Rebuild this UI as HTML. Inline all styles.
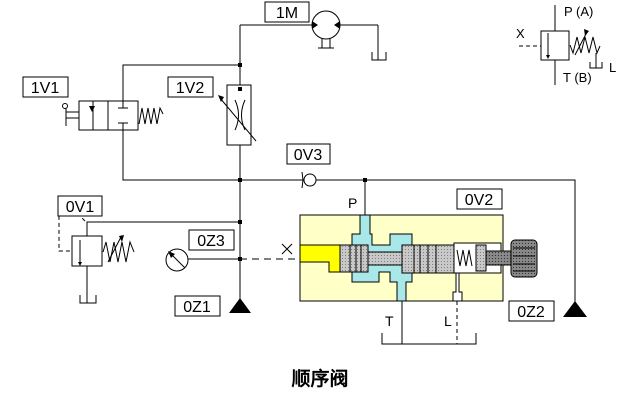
<!DOCTYPE html>
<html><head><meta charset="utf-8"><style>
html,body{margin:0;padding:0;background:#fff;}
svg{display:block}
text{font-family:"Liberation Sans",sans-serif;}
</style></head><body>
<svg width="641" height="406" viewBox="0 0 641 406" xmlns="http://www.w3.org/2000/svg">
<defs>
<pattern id="hat" width="3" height="3" patternUnits="userSpaceOnUse"><rect width="3" height="3" fill="#c8c8c8"/><rect width="1" height="1" fill="#808080"/></pattern>
<pattern id="hat2" width="3" height="3" patternUnits="userSpaceOnUse"><rect width="3" height="3" fill="#888"/><rect width="1" height="1" fill="#333"/></pattern>
</defs>
<g stroke="#000" stroke-width="1" fill="none">
<line x1="240" y1="25" x2="312" y2="25"/>
<line x1="340" y1="25" x2="378" y2="25"/>
<line x1="378" y1="25" x2="378" y2="60"/>
<path d="M372 52 V60 H386 V52"/>
<circle cx="326" cy="25" r="14" fill="#fff"/>
<path d="M322 39 V48 M330 39 V48 M318 48 H334"/>
<line x1="240" y1="25" x2="240" y2="300"/>
<path d="M240 65 H123 V108"/>
<path d="M123 123 V180 H575 V302"/>
<rect x="79" y="101" width="59" height="29" fill="#fff"/>
<line x1="93" y1="101" x2="93" y2="130"/><line x1="108" y1="101" x2="108" y2="130"/>
<line x1="123" y1="101" x2="123" y2="108"/><line x1="123" y1="123" x2="123" y2="130"/>
<line x1="118" y1="108" x2="128" y2="108"/><line x1="118" y1="123" x2="128" y2="123"/>
<path d="M66 112 H79 M66 118 H79 M66 108 V126"/>
<circle cx="65" cy="106" r="2.5"/>
<path d="M139 124 L142 108 L145 124 L148 108 L151 124 L154 108 L157 124 L160 108 L163 114"/>
<rect x="227" y="85" width="24" height="60" fill="#fff"/>
<path d="M235 100 Q242 115 235 130 M245 100 Q238 115 245 130"/>
<line x1="220" y1="98" x2="256" y2="141"/>
<circle cx="310" cy="180" r="6" fill="#fff"/>
<path d="M302 172 L303 180 L302 188"/>
<line x1="365" y1="180" x2="365" y2="216"/>
<path d="M240 222 H87 V236"/>
<rect x="72" y="236" width="30" height="30" fill="#fff"/>
<line x1="80" y1="240" x2="80" y2="262"/>
<path d="M87 266 V303 M80 295 V303 H96 V295"/>
<path d="M85 221 L80 216 H59 V251 H72" stroke-dasharray="4,3"/>
<path d="M103 252 L106 242 L110 262 L114 242 L118 262 L122 242 L126 262 L130 242 L134 252"/>
<line x1="108" y1="262" x2="121" y2="237"/>
<line x1="188" y1="259" x2="240" y2="259"/>
<circle cx="177" cy="260" r="11" fill="#fff"/>
<line x1="170" y1="253" x2="185" y2="268"/>
<line x1="240" y1="259" x2="300" y2="259" stroke-dasharray="7,5"/>
<path d="M282 244 L292 254 M292 244 L282 254"/>
<path d="M402 301 V344 M382 333 V344 H476 V333"/>
<line x1="457" y1="301" x2="457" y2="344" stroke-dasharray="4,3"/>
</g>
<path d="M312 21 L318 25 L312 29Z M340 21 L334 25 L340 29Z" fill="#000"/>
<g fill="#000">
<rect x="238" y="63" width="4" height="4"/><rect x="238" y="178" width="4" height="4"/>
<rect x="238" y="220" width="4" height="4"/><rect x="238" y="257" width="4" height="4"/>
<rect x="363" y="178" width="4" height="4"/><rect x="238" y="87" width="4" height="4"/>
<path d="M92 112 L95 106 L89 106Z M78 262 L82 262 L80 266Z M224 97 L218 95 L221 102Z M119 236 L124 235 L122 242Z M168 251 L175 254 L171 258Z"/>
<path d="M229 313 L240 298 L251 313Z M563 317 L575 301 L587 317Z"/>
</g>
<rect x="300" y="215" width="203" height="86" fill="#ffffc8" stroke="#000"/>
<path d="M360 215 H370 V234 H372 V245 H390 V234 H412 V282 H406 V301 H397 V282 H390 V272 H379 V282 H352 V234 H360 Z" fill="#a8e8e8" stroke="#000"/>
<path d="M300 262 V245 H340 V272 H329 V262 Z" fill="#ffff00" stroke="#000"/>
<rect x="340" y="245" width="28" height="27" fill="url(#hat)" stroke="#000"/>
<rect x="368" y="252" width="34" height="13" fill="url(#hat)" stroke="#000"/>
<rect x="402" y="245" width="52" height="28" fill="url(#hat)" stroke="#000"/>
<g stroke="#000"><line x1="350" y1="245" x2="350" y2="272"/><line x1="356" y1="245" x2="356" y2="272"/><line x1="361" y1="245" x2="361" y2="272"/><line x1="414" y1="245" x2="414" y2="273"/><line x1="420" y1="245" x2="420" y2="273"/><line x1="428" y1="245" x2="428" y2="273"/><line x1="436" y1="245" x2="436" y2="273"/></g>
<rect x="454" y="243" width="47" height="30" fill="#fff" stroke="#000"/>
<path d="M457 250 L460 266 L463 250 L466 266 L469 250 L472 266" fill="none" stroke="#000"/>
<rect x="476" y="245" width="10" height="26" fill="url(#hat)" stroke="#000"/>
<rect x="486" y="251" width="35" height="14" fill="url(#hat2)" stroke="#000"/>
<rect x="511" y="240" width="26" height="37" rx="4" fill="url(#hat2)" stroke="#000"/>
<g stroke="#000"><line x1="513" y1="248" x2="535" y2="248"/><line x1="513" y1="256" x2="535" y2="256"/><line x1="513" y1="264" x2="535" y2="264"/><line x1="513" y1="271" x2="535" y2="271"/></g>
<path d="M456 273 H459 V292 H462 V301 H453 V292 H456 Z" fill="#fff" stroke="#000"/>
<g fill="#fff" stroke="#000">
<rect x="265" y="2" width="44" height="20"/><rect x="23" y="77" width="45" height="20"/>
<rect x="168" y="77" width="45" height="20"/><rect x="287" y="144" width="43" height="20"/>
<rect x="58" y="196" width="44" height="20"/><rect x="457" y="189" width="45" height="20"/>
<rect x="189" y="230" width="45" height="20"/><rect x="175" y="296" width="45" height="20"/>
<rect x="509" y="301" width="45" height="20"/>
</g>
<g font-size="16" text-anchor="middle" fill="#000">
<text x="287" y="18">1M</text><text x="45" y="93">1V1</text><text x="190" y="93">1V2</text>
<text x="308" y="160">0V3</text><text x="80" y="212">0V1</text><text x="479" y="205">0V2</text>
<text x="211" y="246">0Z3</text><text x="197" y="312">0Z1</text><text x="531" y="317">0Z2</text>
</g>
<g font-size="14" fill="#000">
<text x="348" y="208">P</text><text x="385" y="326">T</text><text x="444" y="326">L</text>
</g>
<g stroke="#000" fill="none">
<line x1="555" y1="5" x2="555" y2="85"/>
<rect x="541" y="31" width="28" height="29" fill="#fff"/>
<line x1="548" y1="33" x2="548" y2="55"/>
<line x1="519" y1="46" x2="541" y2="46" stroke-dasharray="4,3"/>
<path d="M570 45 L573 53 L577 37 L581 53 L585 37 L589 53 L593 37 L597 53 L600 46"/>
<line x1="575" y1="55" x2="587" y2="32"/>
<path d="M596 53 V68 M590 62 V68 H602 V62"/>
</g>
<path d="M546 55 L550 55 L548 59Z M584 29 L589 31 L585 36Z" fill="#000"/>
<g font-size="13" fill="#000"><text x="564" y="16">P (A)</text><text x="563" y="82">T (B)</text><text x="516" y="38">X</text><text x="609" y="72">L</text></g>
<text x="320" y="385" text-anchor="middle" font-size="19" font-weight="bold" font-family="'Liberation Serif','Noto Serif CJK SC',serif">顺序阀</text>
</svg>
</body></html>
